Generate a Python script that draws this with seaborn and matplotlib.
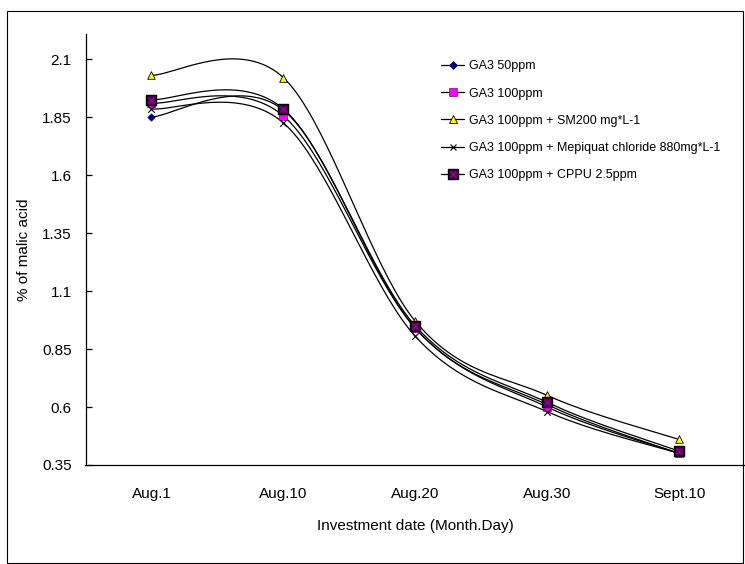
import numpy as np
import pandas as pd
import matplotlib
matplotlib.use("Agg")
import matplotlib.pyplot as plt
from matplotlib.lines import Line2D
from matplotlib.patches import Rectangle
from matplotlib.legend_handler import HandlerTuple
import seaborn as sns

# Sampling dates and malic-acid content (%) for each treatment
dates = ["Aug.1", "Aug.10", "Aug.20", "Aug.30", "Sept.10"]
ga3_50 = [1.85, 1.88, 0.94, 0.61, 0.40]
ga3_100 = [1.91, 1.855, 0.94, 0.60, 0.40]
ga3_sm200 = [2.03, 2.02, 0.97, 0.65, 0.46]
ga3_mepiquat = [1.885, 1.825, 0.905, 0.58, 0.40]
ga3_cppu = [1.925, 1.885, 0.95, 0.62, 0.41]

series_names = [
    "GA3 50ppm",
    "GA3 100ppm",
    "GA3 100ppm + SM200 mg*L-1",
    "GA3 100ppm + Mepiquat chloride 880mg*L-1",
    "GA3 100ppm + CPPU 2.5ppm",
]
series_values = [ga3_50, ga3_100, ga3_sm200, ga3_mepiquat, ga3_cppu]
y_ticks = [0.35, 0.6, 0.85, 1.1, 1.35, 1.6, 1.85, 2.1]
y_tick_labels = ["0.35", "0.6", "0.85", "1.1", "1.35", "1.6", "1.85", "2.1"]

sns.set_theme(style="white")
plt.rcParams["font.family"] = ["Liberation Sans", "DejaVu Sans"]


def smooth_curve(xs, ys, n=40):
    """Cubic Bezier smoothing through every point (spreadsheet-style)."""
    pts = np.column_stack([xs, ys]).astype(float)
    out = []
    for i in range(len(pts) - 1):
        p0 = pts[i - 1] if i > 0 else pts[i]
        p1 = pts[i]
        p2 = pts[i + 1]
        p3 = pts[i + 2] if i + 2 < len(pts) else pts[i + 1]
        c1 = p1 + (p2 - p0) / 6.0
        c2 = p2 - (p3 - p1) / 6.0
        t = np.linspace(0, 1, n)[:, None]
        seg = ((1 - t) ** 3) * p1 + 3 * ((1 - t) ** 2) * t * c1 \
            + 3 * (1 - t) * t ** 2 * c2 + t ** 3 * p2
        out.append(seg if i == 0 else seg[1:])
    return np.vstack(out)


x_pos = np.arange(len(dates))

# Long-form tables: smoothed curves and measured points
curve_rows = []
point_rows = []
for name, vals in zip(series_names, series_values):
    c = smooth_curve(x_pos, vals)
    for k, (cx, cy) in enumerate(c):
        curve_rows.append({"series": name, "x": cx, "y": cy, "order": k})
    for xi, v in zip(x_pos, vals):
        point_rows.append({"series": name, "x": xi, "y": v})
curves = pd.DataFrame(curve_rows)
points = pd.DataFrame(point_rows)

W, H = 745, 564
fig = plt.figure(figsize=(W / 100, H / 100), dpi=100)
fig.patch.set_facecolor("white")
ax = fig.add_axes([85.5 / W, 1 - 465 / H, (W - 85.5) / W, (465 - 34) / H])

sns.lineplot(data=curves, x="x", y="y", hue="series", units="series",
             estimator=None, sort=False, palette=["black"] * 5,
             linewidth=0.9, legend=False, ax=ax)

CPPU_FACE = "#4A004A"
CPPU_CROSS = "#A000A0"

marker_styles = {
    "GA3 50ppm": dict(marker="D", s=14, facecolor="#000080", edgecolor="#000080", lw=0.5),
    "GA3 100ppm": dict(marker="s", s=28, facecolor="#FF00FF", edgecolor="#800080", lw=0.5),
    "GA3 100ppm + SM200 mg*L-1": dict(marker="^", s=30, facecolor="#FFFF00", edgecolor="black", lw=0.6),
    "GA3 100ppm + Mepiquat chloride 880mg*L-1": dict(marker="x", s=22, facecolor="black", edgecolor="black", lw=0.8),
    "GA3 100ppm + CPPU 2.5ppm": dict(marker="s", s=55, facecolor=CPPU_FACE, edgecolor="black", lw=1.0),
}
for name in series_names:
    st = marker_styles[name]
    sub = points[points["series"] == name]
    if st["marker"] == "x":
        sns.scatterplot(data=sub, x="x", y="y", marker="x", s=st["s"], color="black",
                        linewidth=st["lw"], ax=ax, legend=False, zorder=5)
    else:
        sns.scatterplot(data=sub, x="x", y="y", marker=st["marker"], s=st["s"],
                        color=st["facecolor"], edgecolor=st["edgecolor"],
                        linewidth=st["lw"], ax=ax, legend=False, zorder=5)
    if name == "GA3 100ppm + CPPU 2.5ppm":
        sns.scatterplot(data=sub, x="x", y="y", marker="x", s=18, color=CPPU_CROSS,
                        linewidth=0.9, ax=ax, legend=False, zorder=6)

ax.set_xlim(-0.5, len(dates) - 0.5)
ax.set_ylim(0.35, 2.208)
ax.set_xticks(x_pos)
ax.set_xticklabels(dates)
ax.set_xticks(np.arange(len(dates) - 1) + 0.5, minor=True)
ax.set_yticks(y_ticks)
ax.set_yticklabels(y_tick_labels)

for side in ["top", "right"]:
    ax.spines[side].set_visible(False)
for side in ["left", "bottom"]:
    ax.spines[side].set_color("black")
    ax.spines[side].set_linewidth(0.9)

ax.tick_params(axis="x", which="major", length=0, pad=16, labelsize=11, colors="black")
ax.tick_params(axis="x", which="minor", direction="in", length=5, width=0.9, color="black")
ax.tick_params(axis="y", which="major", direction="in", length=4, width=0.9,
               pad=10, labelsize=11, colors="black", left=True)

ax.set_xlabel("Investment date (Month.Day)", fontsize=11, color="black")
ax.set_ylabel("% of malic acid", fontsize=11, color="black")
ax.xaxis.set_label_coords(0.5, -0.125)
ax.yaxis.set_label_coords(-0.083, 0.5)

# Legend handles mirror the marker styles
handles = []
for name in series_names:
    st = marker_styles[name]
    if st["marker"] == "x":
        h = Line2D([], [], color="black", lw=0.9, marker="x", markersize=4.5,
                   markeredgewidth=0.8, markeredgecolor="black")
    else:
        h = Line2D([], [], color="black", lw=0.9, marker=st["marker"],
                   markersize=np.sqrt(st["s"]), markerfacecolor=st["facecolor"],
                   markeredgecolor=st["edgecolor"], markeredgewidth=st["lw"])
    if name == "GA3 100ppm + CPPU 2.5ppm":
        over = Line2D([], [], lw=0, marker="x", markersize=4, markeredgecolor=CPPU_CROSS,
                      markeredgewidth=0.9)
        h = (h, over)
    handles.append(h)

leg = fig.legend(handles, series_names, loc="upper left",
                 bbox_to_anchor=(435 / W, 1 - 54 / H), frameon=False,
                 fontsize=9, handlelength=1.8, handletextpad=0.4,
                 labelspacing=1.22, borderpad=0,
                 handler_map={tuple: HandlerTuple(ndivide=1, pad=0)})
for t in leg.get_texts():
    t.set_color("black")

# Chart-area border
fig.patches.append(Rectangle((7 / W, 1 / H), (743 - 7) / W, (553 - 1) / H,
                             transform=fig.transFigure, fill=False,
                             edgecolor="black", linewidth=0.8, zorder=0))

fig.savefig("out.png", dpi=100, facecolor="white")
